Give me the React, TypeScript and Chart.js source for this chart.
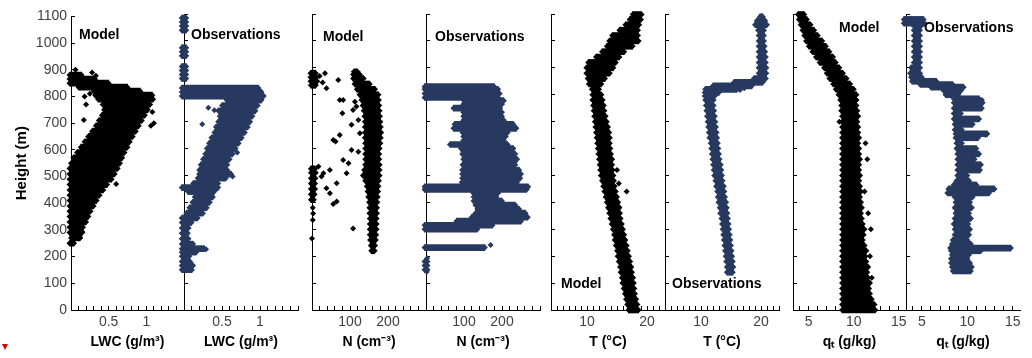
import React, { useEffect, useRef } from 'react';
import { Chart, registerables } from 'chart.js';

Chart.register(...registerables);

type Band = [number, number, number]; // [height (m), low value, high value]
type Pt = [number, number]; // [value, height (m)]

const FONT = '"Liberation Sans", Arial, Helvetica, sans-serif';
const MODEL_COLOR = '#000000';
const OBS_COLOR = '#27395f';
const TICK_COLOR = '#404040';

// ---------- axis tick labels ----------
const heightMin = 0;
const heightMax = 1100;
const heightStep = 100;
const lwcTickLabels = [0.5, 1];
const nTickLabels = [100, 200];
const tTickLabels = [10, 20];
const qTickLabels = [5, 10, 15];

// ---------- LWC (g/m3) ----------
const lwcModelBands: Band[] = [
  [250, -0.02, 0.04], [270, 0.0, 0.12], [290, -0.02, 0.15], [310, -0.02, 0.16], [330, -0.02, 0.2],
  [350, -0.02, 0.23], [370, -0.02, 0.26], [390, -0.02, 0.3], [410, -0.02, 0.34], [430, -0.02, 0.38],
  [450, -0.02, 0.43], [470, -0.02, 0.48], [490, -0.02, 0.54], [510, -0.02, 0.58], [530, -0.02, 0.62],
  [550, 0.0, 0.65], [570, 0.03, 0.68], [590, 0.08, 0.71], [610, 0.13, 0.75], [630, 0.18, 0.78],
  [650, 0.23, 0.82], [670, 0.28, 0.86], [690, 0.33, 0.9], [710, 0.37, 0.94], [730, 0.41, 0.98],
  [750, 0.44, 1.02], [770, 0.42, 1.05], [790, 0.36, 1.09], [805, 0.32, 1.08], [820, 0.3, 0.92],
  [835, 0.1, 0.75], [850, -0.02, 0.5], [865, -0.02, 0.32], [880, -0.02, 0.14],
];
const lwcModelPoints: Pt[] = [
  [0.17, 712], [0.23, 650], [0.26, 657], [0.6, 472], [1.1, 700], [1.08, 742], [0.28, 890], [0.33, 878],
  [0.12, 342], [0.15, 292], [0.12, 272], [0.03, 250], [0.06, 900], [0.36, 560], [0.5, 792], [0.62, 832],
  [0.2, 770], [1.06, 690], [0.25, 810], [0.18, 800],
];
const lwcObsBands: Band[] = [
  [150, -0.03, 0.1], [165, -0.03, 0.12], [180, -0.03, 0.08], [200, -0.03, 0.07], [215, -0.03, 0.16],
  [228, -0.03, 0.27], [245, -0.03, 0.12], [265, -0.03, 0.06], [285, -0.03, 0.05], [305, -0.03, 0.06],
  [325, -0.03, 0.1], [342, -0.03, 0.18], [360, 0.03, 0.25], [380, 0.07, 0.3], [400, 0.11, 0.34],
  [420, 0.14, 0.38], [440, 0.05, 0.4], [455, -0.03, 0.45], [470, 0.12, 0.45], [490, 0.18, 0.55],
  [505, 0.2, 0.62], [520, 0.2, 0.57], [540, 0.22, 0.57], [560, 0.25, 0.6], [580, 0.28, 0.64],
  [600, 0.3, 0.68], [620, 0.33, 0.72], [640, 0.36, 0.76], [660, 0.4, 0.8], [680, 0.42, 0.84],
  [700, 0.45, 0.87], [720, 0.47, 0.9], [740, 0.45, 0.94], [760, 0.5, 0.97], [780, 0.56, 1.02],
  [795, -0.03, 1.05], [810, -0.03, 1.02], [825, -0.03, 0.98],
  [860, -0.03, 0.03], [875, -0.03, 0.03], [890, -0.03, 0.03], [905, -0.03, 0.03],
  [945, -0.03, 0.03], [960, -0.03, 0.03], [975, -0.03, 0.03],
  [1040, -0.03, 0.03], [1055, -0.03, 0.03], [1070, -0.03, 0.03], [1085, -0.03, 0.03],
];
const lwcObsPoints: Pt[] = [
  [0.32, 752], [0.24, 690], [0.64, 496], [0.36, 622], [0.29, 226], [0.1, 148], [0.4, 742], [0.7, 585],
];

// ---------- N (cm-3) ----------
const nModelBands: Band[] = [
  [220, 156, 165], [240, 155, 166], [260, 153, 168], [280, 152, 169], [300, 152, 170],
  [320, 152, 170], [340, 152, 170], [360, 151, 171], [380, 151, 171], [400, 150, 172],
  [420, 148, 173], [440, 146, 174], [460, 144, 175], [480, 140, 176], [500, 134, 178],
  [520, 137, 178], [540, 140, 178], [560, 140, 177], [580, 140, 177], [600, 140, 178],
  [620, 140, 180], [640, 139, 181], [660, 139, 182], [680, 139, 181], [700, 139, 180],
  [720, 138, 179], [740, 136, 178], [760, 133, 177], [780, 130, 176], [800, 125, 175],
  [820, 118, 166], [840, 112, 152], [860, 108, 136], [875, 108, 126], [885, 110, 120],
  [835, -3, 10], [850, -4, 14], [865, -4, 12], [880, -4, 10],
  [410, -3, 5], [430, -3, 7], [450, -3, 8], [470, -3, 8], [490, -3, 9], [510, -3, 10], [525, -3, 8],
];
const nModelPoints: Pt[] = [
  [73, 780], [82, 780], [80, 731], [113, 774], [108, 743], [117, 756], [56, 632], [62, 626],
  [73, 650], [104, 688], [82, 557], [104, 595], [47, 520], [17, 533], [25, 496], [30, 508],
  [65, 471], [56, 394], [65, 403], [38, 452], [47, 434], [108, 303], [0, 266], [34, 880],
  [69, 855], [38, 824], [3, 359], [2, 334], [91, 508], [96, 545], [122, 588], [126, 657],
  [122, 706], [20, 870], [28, 845], [2, 380],
];
const nObsBands: Band[] = [
  [150, -4, 4], [165, -4, 4], [180, -4, 4], [232, -4, 155], [300, -4, 135], [315, -4, 175],
  [330, 80, 250], [345, 120, 268], [360, 130, 262], [375, 135, 245], [390, 130, 235],
  [405, 125, 200], [420, 125, 185], [435, 124, 190], [448, -4, 265], [458, -4, 269],
  [475, 94, 240], [490, 95, 248], [505, 95, 250], [520, 95, 245], [540, 96, 235],
  [560, 98, 240], [580, 95, 235], [600, 92, 230], [615, 63, 215], [630, 98, 205],
  [645, 98, 210], [660, 96, 215], [675, 72, 238], [690, 75, 230], [705, 98, 205],
  [720, 98, 200], [735, 98, 200], [750, 72, 195], [765, 98, 200], [778, 100, 205],
  [790, -4, 190], [805, -4, 194], [820, -4, 190], [830, -4, 180],
];
const nObsPoints: Pt[] = [[3, 192], [2, 142], [130, 430], [240, 350], [170, 242]];

// ---------- T (degC) ----------
const tModelBands: Band[] = [
  [0, 16.9, 18.6], [20, 16.7, 18.4], [40, 16.5, 18.2], [60, 16.3, 18.0], [80, 16.1, 17.9],
  [100, 15.9, 17.8], [120, 15.8, 17.7], [140, 15.6, 17.5], [160, 15.5, 17.4], [180, 15.3, 17.2],
  [200, 15.1, 17.0], [220, 15.0, 16.8], [240, 14.8, 16.6], [260, 14.6, 16.4], [280, 14.5, 16.2],
  [300, 14.3, 16.0], [320, 14.1, 15.8], [340, 13.9, 15.6], [360, 13.7, 15.5], [380, 13.5, 15.4],
  [400, 13.3, 15.2], [420, 13.1, 15.0], [440, 12.9, 14.8], [460, 12.7, 14.6], [480, 12.5, 14.5],
  [500, 12.3, 14.4], [520, 12.2, 14.3], [540, 12.1, 14.2], [560, 12.0, 14.2], [580, 11.9, 14.0],
  [600, 11.8, 13.9], [620, 11.7, 13.8], [640, 11.6, 13.8], [660, 11.5, 13.7], [680, 11.4, 13.5],
  [700, 11.3, 13.3], [720, 11.2, 13.1], [740, 11.1, 12.9], [760, 11.0, 12.8], [780, 10.9, 12.6],
  [800, 10.9, 12.4], [820, 10.8, 12.0], [840, 10.3, 12.4], [860, 10.1, 13.0], [880, 9.9, 13.8],
  [900, 9.9, 14.4], [920, 10.2, 14.8], [940, 11.5, 15.4], [960, 12.5, 16.2], [980, 13.3, 17.6],
  [1000, 13.7, 18.6], [1020, 14.2, 18.5], [1040, 15.4, 18.5], [1060, 16.4, 18.7], [1080, 17.1, 19.0],
  [1098, 17.6, 19.1],
];
const tModelPoints: Pt[] = [[15.3, 470], [15.3, 384], [16.6, 440], [15.0, 520]];
const tObsBands: Band[] = [
  [140, 14.3, 15.3], [160, 14.3, 15.4], [180, 14.2, 15.3], [200, 14.1, 15.2], [220, 14.0, 15.1],
  [240, 13.9, 15.0], [260, 13.8, 14.9], [280, 13.7, 14.8], [300, 13.6, 14.7], [320, 13.5, 14.6],
  [340, 13.4, 14.5], [360, 13.2, 14.4], [380, 13.1, 14.3], [400, 12.9, 14.2], [420, 12.8, 14.0],
  [440, 12.7, 13.9], [460, 12.5, 13.8], [480, 12.4, 13.6], [500, 12.2, 13.5], [520, 12.1, 13.4],
  [540, 12.0, 13.3], [560, 11.9, 13.1], [580, 11.8, 13.0], [600, 11.7, 12.9], [620, 11.6, 12.8],
  [640, 11.4, 12.7], [660, 11.3, 12.6], [680, 11.2, 12.5], [700, 11.1, 12.4], [720, 11.0, 12.3],
  [740, 10.9, 12.2], [760, 10.8, 12.1], [780, 10.7, 12.1], [795, 10.6, 12.3], [808, 10.6, 13.0],
  [820, 10.7, 16.0], [833, 12.0, 18.5], [846, 15.5, 20.3], [860, 18.8, 20.8], [880, 19.6, 20.9],
  [900, 19.6, 20.9], [920, 19.6, 20.8], [940, 19.6, 20.8], [960, 19.6, 20.7], [980, 19.6, 20.6],
  [1000, 19.6, 20.5], [1020, 19.6, 20.5], [1040, 19.5, 20.5], [1060, 19.0, 21.0], [1075, 19.3, 20.7],
  [1090, 19.8, 20.3],
];
const tObsPoints: Pt[] = [[16.5, 818], [17.2, 824], [18.0, 835]];

// ---------- qt (g/kg) ----------
const qModelBands: Band[] = [
  [0, 8.7, 12.4], [20, 8.7, 12.3], [40, 8.7, 12.0], [60, 8.7, 11.8], [80, 8.7, 11.7],
  [100, 8.7, 11.8], [120, 8.7, 11.6], [140, 8.7, 11.5], [160, 8.7, 11.6], [180, 8.7, 11.4],
  [200, 8.7, 11.3], [220, 8.7, 11.4], [240, 8.7, 11.2], [260, 8.7, 11.0], [280, 8.7, 11.1],
  [300, 8.7, 11.2], [320, 8.7, 11.0], [340, 8.7, 10.9], [360, 8.7, 10.8], [380, 8.7, 10.9],
  [400, 8.7, 10.8], [420, 8.7, 10.7], [440, 8.7, 10.8], [460, 8.7, 10.7], [480, 8.7, 10.6],
  [500, 8.7, 10.7], [520, 8.7, 10.6], [540, 8.7, 10.6], [560, 8.7, 10.7], [580, 8.7, 10.6],
  [600, 8.7, 10.6], [620, 8.7, 10.5], [640, 8.7, 10.6], [660, 8.7, 10.5], [680, 8.7, 10.5],
  [700, 8.7, 10.4], [720, 8.7, 10.5], [740, 8.6, 10.4], [760, 8.6, 10.3], [780, 8.5, 10.3],
  [800, 8.3, 10.3], [820, 8.0, 10.0], [840, 7.7, 9.6], [860, 7.3, 9.2], [880, 7.0, 8.8],
  [900, 6.7, 8.4], [920, 6.2, 8.0], [940, 5.8, 7.7], [960, 5.4, 7.3], [980, 5.0, 6.9],
  [1000, 4.7, 6.5], [1020, 4.5, 6.0], [1040, 4.3, 5.6], [1060, 4.1, 5.2], [1080, 3.9, 4.8],
  [1098, 3.8, 4.5],
];
const qModelPoints: Pt[] = [
  [8.4, 700], [11.3, 620], [11.5, 560], [11.2, 440], [11.9, 300], [11.8, 200], [12.0, 120], [11.6, 360],
];
const qObsBands: Band[] = [
  [145, 8.4, 10.4], [160, 8.3, 10.5], [175, 8.2, 10.3], [190, 8.2, 10.0], [205, 8.3, 10.2],
  [220, 8.2, 11.5], [230, 8.1, 14.8], [245, 8.3, 10.4], [260, 8.4, 10.0], [280, 8.6, 10.2],
  [300, 8.6, 10.3], [320, 8.5, 10.1], [340, 8.6, 10.4], [360, 8.7, 10.2], [380, 8.6, 10.5],
  [400, 8.7, 10.3], [420, 8.6, 10.6], [435, 7.8, 12.4], [450, 7.9, 13.0], [465, 8.5, 11.0],
  [480, 8.8, 10.2], [500, 8.9, 10.0], [520, 8.9, 11.4], [540, 8.9, 11.5], [560, 8.9, 10.8],
  [580, 8.9, 11.3], [600, 8.8, 11.0], [620, 8.8, 9.4], [640, 8.7, 11.2], [655, 8.7, 12.2],
  [670, 8.6, 9.4], [690, 8.6, 10.6], [710, 8.5, 11.3], [730, 8.5, 9.3], [750, 8.5, 11.6],
  [770, 8.5, 11.7], [785, 8.5, 11.3], [800, 7.6, 9.0], [815, 7.4, 9.3], [828, 6.0, 9.6],
  [838, 4.8, 8.4], [850, 3.9, 6.6], [865, 3.8, 5.0], [880, 3.7, 4.8], [900, 3.8, 4.8],
  [920, 4.1, 4.8], [940, 4.1, 4.8], [960, 4.1, 4.8], [980, 4.1, 4.8], [1000, 4.1, 4.8],
  [1020, 4.1, 4.8], [1040, 4.1, 4.8], [1055, 4.1, 4.9], [1066, 3.0, 5.3], [1080, 3.0, 5.2],
];
const qObsPoints: Pt[] = [[12.0, 650], [11.6, 780], [10.5, 690], [12.2, 445]];

// ---------- layout ----------
interface AxisSpec { min: number; max: number; step: number; labels: number[]; title: string; }
interface PanelSpec {
  axisX: number; plotW: number; axisW: number; showY: boolean;
  bands: Band[]; points: Pt[]; color: string; axis: AxisSpec;
  label: string; labelX: number; labelY: number;
}

const lwcAxis: AxisSpec = { min: 0, max: 1.5, step: 0.1, labels: lwcTickLabels, title: 'LWC (g/m³)' };
const nAxis: AxisSpec = { min: 0, max: 300, step: 20, labels: nTickLabels, title: 'N (cm⁻³)' };
const tAxis: AxisSpec = { min: 4, max: 23, step: 1, labels: tTickLabels, title: 'T (°C)' };
const qAxis: AxisSpec = { min: 3.25, max: 15.8, step: 1, labels: qTickLabels, title: 'qₜ (g/kg)' };

const panels: PanelSpec[] = [
  { axisX: 71, plotW: 113, axisW: 71, showY: true, bands: lwcModelBands, points: lwcModelPoints, color: MODEL_COLOR, axis: lwcAxis, label: 'Model', labelX: 79, labelY: 26 },
  { axisX: 184, plotW: 114, axisW: 12, showY: false, bands: lwcObsBands, points: lwcObsPoints, color: OBS_COLOR, axis: lwcAxis, label: 'Observations', labelX: 191, labelY: 26 },
  { axisX: 312, plotW: 114, axisW: 12, showY: false, bands: nModelBands, points: nModelPoints, color: MODEL_COLOR, axis: nAxis, label: 'Model', labelX: 323, labelY: 28 },
  { axisX: 426, plotW: 114, axisW: 12, showY: false, bands: nObsBands, points: nObsPoints, color: OBS_COLOR, axis: nAxis, label: 'Observations', labelX: 435, labelY: 28 },
  { axisX: 551, plotW: 114, axisW: 12, showY: false, bands: tModelBands, points: tModelPoints, color: MODEL_COLOR, axis: tAxis, label: 'Model', labelX: 561, labelY: 275 },
  { axisX: 665, plotW: 114, axisW: 12, showY: false, bands: tObsBands, points: tObsPoints, color: OBS_COLOR, axis: tAxis, label: 'Observations', labelX: 672, labelY: 275 },
  { axisX: 793, plotW: 113, axisW: 12, showY: false, bands: qModelBands, points: qModelPoints, color: MODEL_COLOR, axis: qAxis, label: 'Model', labelX: 839, labelY: 19 },
  { axisX: 906, plotW: 114, axisW: 12, showY: false, bands: qObsBands, points: qObsPoints, color: OBS_COLOR, axis: qAxis, label: 'Observations', labelX: 924, labelY: 19 },
];

const RIGHT_PAD = 12;
const CANVAS_H = 358;
const PLOT_TOP = 14;
const X_AXIS_H = 48;

function Panel({ spec }: { spec: PanelSpec }) {
  const ref = useRef<HTMLCanvasElement | null>(null);
  const width = spec.axisW + spec.plotW + RIGHT_PAD;

  useEffect(() => {
    const canvas = ref.current;
    if (!canvas) return;
    const ax = spec.axis;
    // markers at each band's two ends, so the cloud edges look like the plotted symbols
    const edgePoints = spec.bands.flatMap(([h, lo, hi]) => [{ x: lo, y: h }, { x: hi, y: h }]);
    const config: any = {
      type: 'bar',
      data: {
        datasets: [
          {
            type: 'bar',
            indexAxis: 'y',
            data: spec.bands.map(([h, lo, hi]) => ({ y: h, x: [lo, hi] })),
            backgroundColor: spec.color,
            borderWidth: 0,
            barThickness: 6,
            clip: 8,
            xAxisID: 'x',
            yAxisID: 'y',
          },
          {
            type: 'scatter',
            data: edgePoints,
            backgroundColor: spec.color,
            borderColor: spec.color,
            pointStyle: 'rectRot',
            pointRadius: 3,
            borderWidth: 0,
            clip: 8,
            xAxisID: 'x',
            yAxisID: 'y',
          },
          {
            type: 'scatter',
            data: spec.points.map(([v, h]) => ({ x: v, y: h })),
            backgroundColor: spec.color,
            borderColor: spec.color,
            pointStyle: 'rectRot',
            pointRadius: 3,
            borderWidth: 0,
            clip: 8,
            xAxisID: 'x',
            yAxisID: 'y',
          },
        ],
      },
      options: {
        responsive: false,
        maintainAspectRatio: false,
        animation: false,
        devicePixelRatio: 1,
        events: [],
        layout: { padding: { top: PLOT_TOP, right: RIGHT_PAD, bottom: 0, left: 0 } },
        plugins: { legend: { display: false }, tooltip: { enabled: false } },
        scales: {
          x: {
            type: 'linear',
            position: 'bottom',
            min: ax.min,
            max: ax.max,
            offset: false,
            border: { display: true, color: '#000', width: 1 },
            grid: { display: true, drawOnChartArea: false, drawTicks: true, tickLength: -4, color: '#000', tickColor: '#000', offset: false },
            ticks: {
              stepSize: ax.step,
              includeBounds: false,
              autoSkip: false,
              maxRotation: 0,
              minRotation: 0,
              padding: 8,
              color: TICK_COLOR,
              font: { family: FONT, size: 14 },
              callback: (v: number) => (ax.labels.some((l) => Math.abs(l - v) < 1e-6) ? String(Number(v.toFixed(3))) : ''),
            },
            title: {
              display: true,
              text: ax.title,
              color: '#000',
              font: { family: FONT, size: 14, weight: 'bold' },
              padding: { top: 0, bottom: 7 },
            },
            afterFit: (s: any) => { s.height = X_AXIS_H; },
          },
          y: {
            type: 'linear',
            position: 'left',
            min: heightMin,
            max: heightMax,
            offset: false,
            border: { display: true, color: '#000', width: 1 },
            grid: { display: true, drawOnChartArea: false, drawTicks: true, tickLength: -4, color: '#000', tickColor: '#000', offset: false },
            ticks: {
              display: spec.showY,
              stepSize: heightStep,
              autoSkip: false,
              padding: 8,
              color: TICK_COLOR,
              font: { family: FONT, size: 14 },
              callback: (v: number) => String(v),
            },
            title: {
              display: spec.showY,
              text: 'Height (m)',
              color: '#000',
              font: { family: FONT, size: 15, weight: 'bold' },
              padding: { top: 13, bottom: 0 },
            },
            afterFit: (s: any) => { s.width = spec.axisW; },
          },
        },
      },
    };
    const chart = new Chart(canvas, config);
    return () => chart.destroy();
  }, [spec]);

  return (
    <canvas
      ref={ref}
      width={width}
      height={CANVAS_H}
      style={{ position: 'absolute', left: spec.axisX - spec.axisW, top: 0, width, height: CANVAS_H }}
    />
  );
}

export default function App() {
  return (
    <div style={{ position: 'fixed', left: 0, top: 0, width: 1032, height: 358, background: '#fff', overflow: 'hidden' }}>
      {panels.map((p, i) => (
        <Panel key={i} spec={p} />
      ))}
      {panels.map((p, i) => (
        <div
          key={'l' + i}
          style={{
            position: 'absolute',
            left: p.labelX,
            top: p.labelY,
            fontFamily: FONT,
            fontWeight: 'bold',
            fontSize: 14,
            lineHeight: '16px',
            color: '#000',
            whiteSpace: 'nowrap',
          }}
        >
          {p.label}
        </div>
      ))}
      <div
        style={{
          position: 'absolute',
          left: 2,
          top: 344,
          width: 0,
          height: 0,
          borderLeft: '3.5px solid transparent',
          borderRight: '3.5px solid transparent',
          borderTop: '6px solid #e00000',
        }}
      />
    </div>
  );
}
